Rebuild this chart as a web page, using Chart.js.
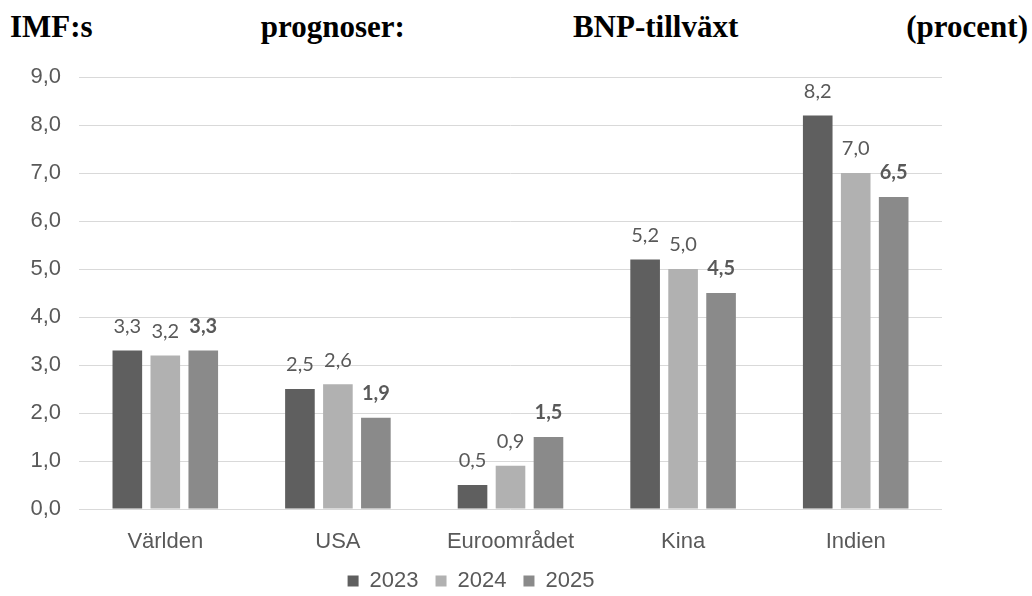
<!DOCTYPE html>
<html>
<head>
<meta charset="utf-8">
<script src="https://cdn.jsdelivr.net/npm/chart.js@4"></script>
<style>
  html, body { margin: 0; padding: 0; background: #fff; }
  #wrap { position: relative; width: 1032px; height: 596px; }
  #title {
    position: absolute; left: 10px; right: 4px; top: 9px;
    display: flex; justify-content: space-between;
    font: bold 31px "Liberation Serif", "Times New Roman", serif;
    color: #000; line-height: 36px;
  }
  canvas { position: absolute; left: 0; top: 0; }
</style>
</head>
<body>
<div id="wrap">
  <div id="title"><span>IMF:s</span><span>prognoser:</span><span>BNP-tillväxt</span><span>(procent)</span></div>
  <canvas id="gdpChart" width="1032" height="596"></canvas>
</div>
<script>
// Regions on the x axis
const regions = ['Världen', 'USA', 'Euroområdet', 'Kina', 'Indien'];

// Forecast years (legend)
const years = ['2023', '2024', '2025'];

// GDP growth per year, same order as regions
const growth2023 = [3.3, 2.5, 0.5, 5.2, 8.2];
const growth2024 = [3.2, 2.6, 0.9, 5.0, 7.0];
const growth2025 = [3.3, 1.9, 1.5, 4.5, 6.5];

// y axis range
const yMin = 0;
const yMax = 9;
const yStep = 1;

const barColors = ['#5f5f5f', '#b1b1b1', '#8a8a8a'];

const fmt = v => v.toFixed(1).replace('.', ',');

// draw value labels above each bar (2025 in bold)
const valueLabels = {
  id: 'valueLabels',
  afterDatasetsDraw(chart) {
    const c = chart.ctx;
    c.save();
    c.textAlign = 'center';
    c.textBaseline = 'middle';
    c.fillStyle = '#595959';
    chart.data.datasets.forEach((ds, i) => {
      c.font = (i === 2 ? 'bold ' : '') + '20px Lato, "Open Sans", sans-serif';
      chart.getDatasetMeta(i).data.forEach((bar, j) => {
        c.fillText(fmt(ds.data[j]), bar.x, bar.y - 24);
      });
    });
    c.restore();
  }
};

new Chart(document.getElementById('gdpChart'), {
  type: 'bar',
  data: {
    labels: regions,
    datasets: [
      { label: years[0], data: growth2023, backgroundColor: barColors[0] },
      { label: years[1], data: growth2024, backgroundColor: barColors[1] },
      { label: years[2], data: growth2025, backgroundColor: barColors[2] }
    ]
  },
  options: {
    responsive: false,
    animation: false,
    categoryPercentage: 0.66,
    barPercentage: 0.78,
    layout: { padding: { top: 77, right: 90, left: 0, bottom: -6 } },
    scales: {
      y: {
        min: yMin, max: yMax,
        border: { display: false },
        grid: { color: '#d9d9d9', drawTicks: false },
        ticks: {
          stepSize: yStep,
          padding: 18,
          color: '#595959',
          font: { family: '"Liberation Sans", Arial, sans-serif', size: 22 },
          callback: v => fmt(v)
        },
        afterFit(scale) { scale.width = 79; }
      },
      x: {
        border: { display: false },
        grid: { display: false },
        ticks: {
          padding: 12,
          color: '#595959',
          font: { family: '"Liberation Sans", Arial, sans-serif', size: 22 }
        },
        afterFit(scale) { scale.height = 44; }
      }
    },
    plugins: {
      legend: {
        position: 'bottom',
        labels: {
          boxWidth: 11,
          boxHeight: 11,
          padding: 17,
          color: '#595959',
          font: { family: '"Liberation Sans", Arial, sans-serif', size: 22 }
        }
      },
      tooltip: { enabled: false }
    }
  },
  plugins: [valueLabels]
});
</script>
</body>
</html>
